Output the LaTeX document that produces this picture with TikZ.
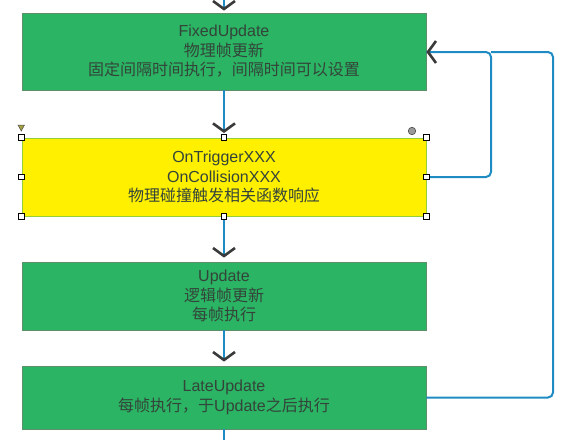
\documentclass[tikz,border=0pt]{standalone}
\usepackage{fontspec}
\setmainfont{Liberation Sans}
\newfontfamily\cjk{Noto Sans CJK SC}
\usetikzlibrary{arrows.meta}

\definecolor{stepgreen}{HTML}{2AB463}
\definecolor{stepborder}{HTML}{5E8F6C}
\definecolor{hityellow}{HTML}{FFF000}
\definecolor{hitborder}{HTML}{97CC3A}
\definecolor{flowblue}{HTML}{1E8BC3}
\definecolor{tipgray}{HTML}{3A3A3A}
\definecolor{textgray}{HTML}{34443A}

\begin{document}
\begin{tikzpicture}[
	x=1pt, y=-1pt,
	stepbox/.style = {draw=stepborder, line width=0.8pt, fill=stepgreen, text=textgray,
			  minimum width=404pt, inner sep=0pt, align=center,
			  font=\fontsize{16}{19.5}\selectfont},
	flow/.style = {draw=flowblue, line width=2pt},
	into/.style = {flow, -{Straight Barb[length=8pt, width=22pt, line width=2.6pt, color=tipgray]}},
	loop/.style = {flow, rounded corners=5pt},
	handle/.style = {draw=black, fill=white, line width=0.7pt, minimum size=5.5pt, inner sep=0pt},
]
	\useasboundingbox (0,0) rectangle (576,440);

	\node [stepbox, minimum height=77pt] (fixed) at (224,51.5)
		{FixedUpdate\\{\cjk 物理帧更新}\\{\cjk 固定间隔时间执行，间隔时间可以设置}};
	\node [stepbox, minimum height=78pt, draw=hitborder, line width=1pt, fill=hityellow] (trigger) at (224,177)
		{OnTriggerXXX\\OnCollisionXXX\\{\cjk 物理碰撞触发相关函数响应}};
	\node [stepbox, minimum height=68pt] (update) at (224,296)
		{Update\\{\cjk 逻辑帧更新}\\{\cjk 每帧执行}};
	\node [stepbox, minimum height=63pt] (late) at (224,397.5)
		{LateUpdate\\{\cjk 每帧执行，于}Update{\cjk 之后执行}};

	\coordinate (top) at (224,0);
	\coordinate (bottom) at (224,440);
	\coordinate (joint) at (491,52);
	\coordinate (outer) at (553,52);

	% main flow
	\draw [into, shorten >=2pt] (top) -- (fixed.north);
	\draw [into, shorten >=4.5pt] (fixed.south) -- (trigger.north);
	\draw [into, shorten >=4pt] (trigger.south) -- (update.north);
	\draw [into, shorten >=4pt] (update.south) -- (late.north);
	\draw [flow] (late.south) -- (bottom);

	% loops back to FixedUpdate
	\draw [loop] (late.east) -| (outer) -- (joint);
	\draw [loop] (trigger.east) -| (joint) -- (fixed.east |- joint);
	\draw [into] (joint) ++(-20,0) -- (fixed.east |- joint);

	% selection handles
	\foreach \anchor in {north west, north, north east, east, south east, south, south west, west}{%
		\node [handle] at (trigger.\anchor) {};
	}
	\node [circle, draw=black!70, fill=black!40, line width=0.6pt, minimum size=7.5pt, inner sep=0pt] (rotate) at (412,131) {};
	\draw [draw=black!70, fill=yellow!60!black, line width=0.5pt] (18,125) -- (24.5,125) -- (21.25,131) -- cycle;
\end{tikzpicture}
\end{document}
